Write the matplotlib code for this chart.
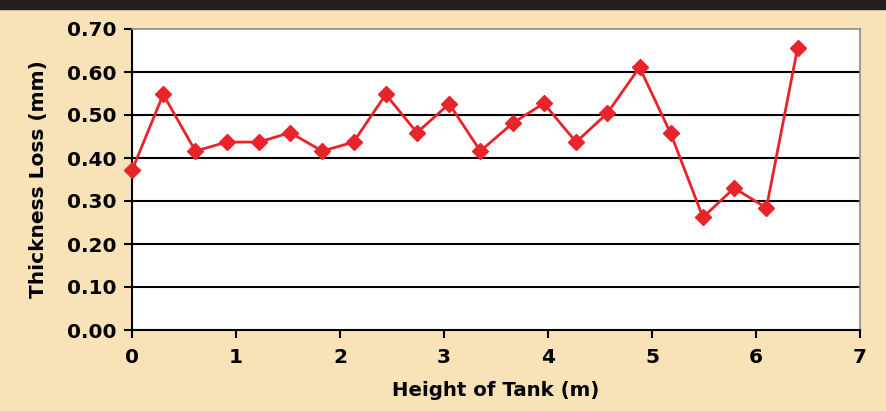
import matplotlib.pyplot as plt
import numpy as np
from matplotlib.patches import Rectangle

# data
height_m = [0.00, 0.30, 0.61, 0.91, 1.22, 1.52, 1.83, 2.13, 2.44, 2.74, 3.05,
            3.35, 3.66, 3.96, 4.27, 4.57, 4.88, 5.18, 5.49, 5.79, 6.10, 6.40]
loss_mm = [0.371, 0.548, 0.416, 0.437, 0.437, 0.459, 0.416, 0.437, 0.548, 0.459, 0.526,
           0.416, 0.481, 0.527, 0.437, 0.504, 0.611, 0.457, 0.262, 0.330, 0.284, 0.656]
x_ticks = [0, 1, 2, 3, 4, 5, 6, 7]
y_ticks = [0.0, 0.1, 0.2, 0.3, 0.4, 0.5, 0.6, 0.7]

bg = '#f8e3b8'
red = '#e8242a'

plt.rcParams['font.family'] = ['DejaVu Sans']

fig = plt.figure(figsize=(8.86, 4.11), dpi=100, facecolor=bg)
fig.patches.append(Rectangle((0, 1 - 9 / 411), 1, 9 / 411, transform=fig.transFigure,
                             color='#231f20', zorder=0))

ax = fig.add_axes([132 / 886, 81 / 411, 728 / 886, 301 / 411])
ax.set_facecolor('white')

for yv in y_ticks[1:-1]:
    ax.axhline(yv, color='black', lw=1.5, zorder=1)

ax.plot(height_m, loss_mm, color=red, lw=2, marker='D', markersize=8,
        markerfacecolor=red, markeredgecolor=red, zorder=3, clip_on=False)

ax.set_xlim(0, 7)
ax.set_ylim(0, 0.7)
ax.set_xticks(x_ticks)
ax.set_yticks(y_ticks)
ax.set_yticklabels([f'{v:.2f}' for v in y_ticks])

for s in ['left', 'bottom']:
    ax.spines[s].set_color('black')
    ax.spines[s].set_linewidth(1.5)
for s in ['top', 'right']:
    ax.spines[s].set_color('#8c8c8c')
    ax.spines[s].set_linewidth(1.2)

ax.tick_params(axis='both', direction='out', length=6, width=1.5, color='black',
               labelsize=14.5)
ax.tick_params(axis='x', pad=7)
ax.tick_params(axis='y', pad=5)
for lab in ax.get_xticklabels() + ax.get_yticklabels():
    lab.set_fontweight('bold')

ax.set_xlabel('Height of Tank (m)', fontsize=14.2, fontweight='bold', labelpad=10)
ax.set_ylabel('Thickness Loss (mm)', fontsize=14.5, fontweight='bold', labelpad=14)

plt.savefig('out.png', dpi=100, facecolor=fig.get_facecolor())
plt.close(fig)
